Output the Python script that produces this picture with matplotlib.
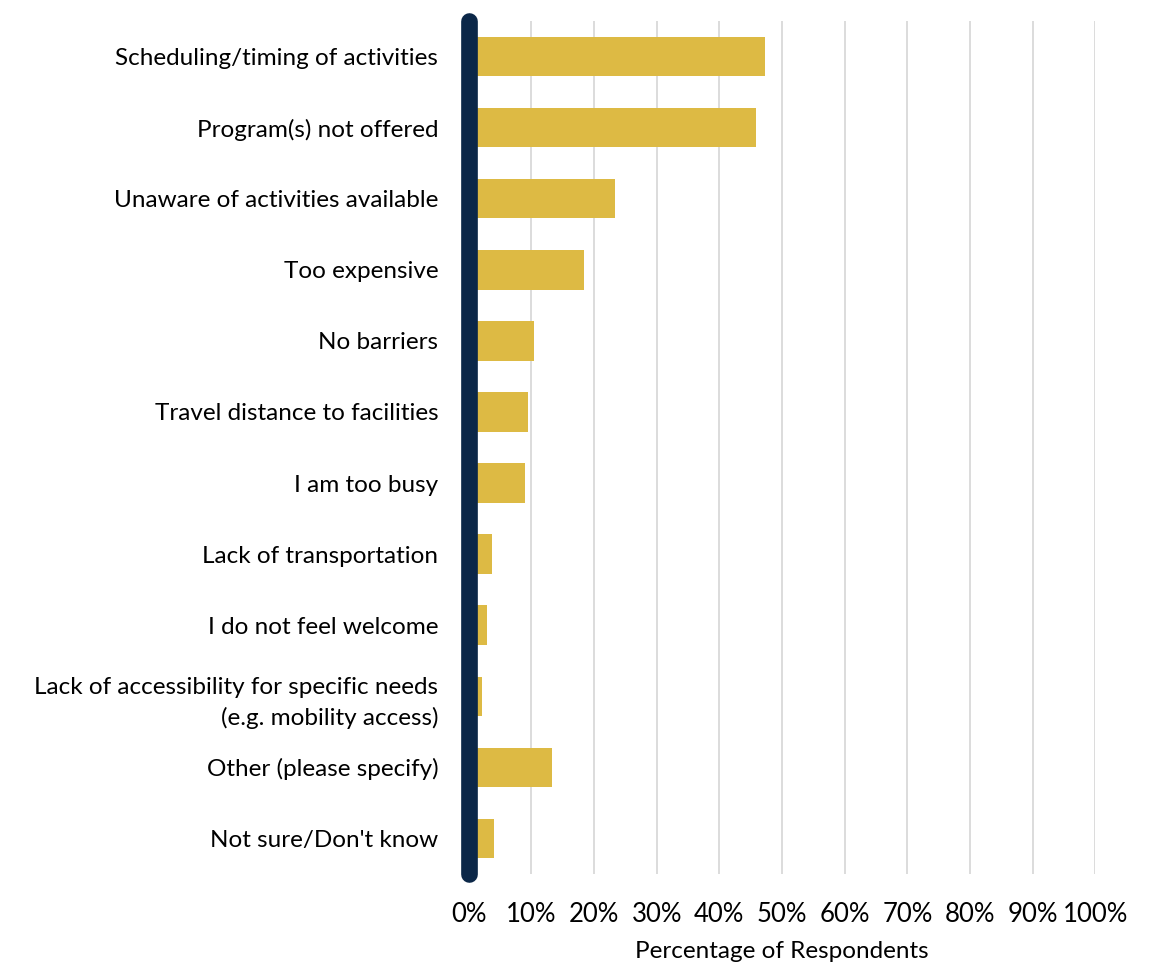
import matplotlib
matplotlib.use("Agg")
import matplotlib.pyplot as plt
from matplotlib.ticker import FuncFormatter, MultipleLocator

categories = [
    "Scheduling/timing of activities",
    "Program(s) not offered",
    "Unaware of activities available",
    "Too expensive",
    "No barriers",
    "Travel distance to facilities",
    "I am too busy",
    "Lack of transportation",
    "I do not feel welcome",
    "Lack of accessibility for specific needs\n(e.g. mobility access)",
    "Other (please specify)",
    "Not sure/Don't know",
]
values = [47.3, 45.8, 23.3, 18.4, 10.4, 9.5, 9.0, 3.7, 2.9, 2.2, 13.3, 4.1]

BAR_COLOR = "#DDBA44"
AXIS_COLOR = "#0B2748"
GRID_COLOR = "#D9D9D9"

plt.rcParams["font.family"] = ["Lato", "DejaVu Sans"]

fig = plt.figure(figsize=(11.57, 9.67), dpi=100)
ax = fig.add_axes([468.7 / 1157, 1 - 874 / 967, (1095.3 - 468.7) / 1157, (874 - 21) / 967])

y = list(range(len(categories)))
ax.barh(y, values, height=0.555, color=BAR_COLOR, zorder=2)

ax.set_xlim(0, 100)
ax.set_ylim(len(categories) - 0.5, -0.5)
ax.xaxis.set_major_locator(MultipleLocator(10))
ax.xaxis.set_major_formatter(FuncFormatter(lambda v, p: f"{int(round(v))}%"))
ax.grid(axis="x", color=GRID_COLOR, linewidth=1.3, zorder=0)
ax.set_axisbelow(True)

for s in ax.spines.values():
    s.set_visible(False)

# thick rounded baseline at 0%
ax.plot([0, 0], [-0.5, len(categories) - 0.5], color=AXIS_COLOR, linewidth=12,
        solid_capstyle="round", zorder=3, clip_on=False)

ax.set_yticks(y)
ax.set_yticklabels(categories, fontsize=17.5, color="black", linespacing=1.5)
ax.tick_params(axis="y", length=0, pad=22)
ax.tick_params(axis="x", length=0, pad=20, labelsize=18.5, labelcolor="black")
ax.set_xlabel("Percentage of Respondents", fontsize=17.5, labelpad=10)

fig.savefig("out.png", dpi=100, facecolor="white")
